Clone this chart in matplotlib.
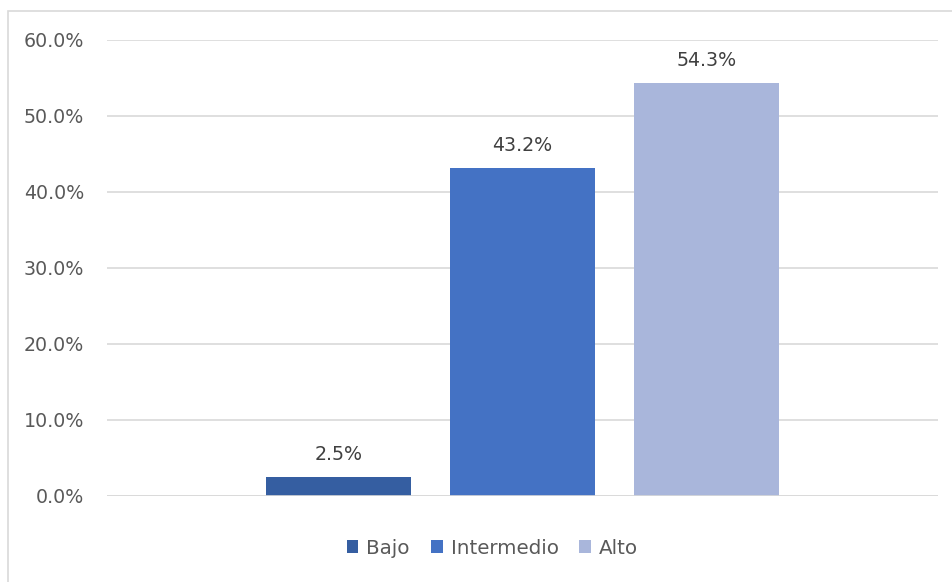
import matplotlib.pyplot as plt
from matplotlib.patches import Rectangle

# Datos del gráfico
niveles = ['Bajo', 'Intermedio', 'Alto']
porcentajes = [2.5, 43.2, 54.3]
colores = ['#355EA1', '#4472C4', '#A9B6DB']
ticks_y = [0, 10, 20, 30, 40, 50, 60]

gris_texto = '#595959'
gris_linea = '#D9D9D9'

fig = plt.figure(figsize=(9.53, 5.82), dpi=100)
ax = fig.add_axes([0.1123, 0.1478, 0.8720, 0.7835])

# Borde exterior del gráfico
fig.patches.append(Rectangle((8 / 953, -0.05), 1.2, 1 - 11 / 582 + 0.05,
                             transform=fig.transFigure, fill=False,
                             edgecolor=gris_linea, linewidth=1.2))

# Tres barras agrupadas en una sola categoría
ancho = 0.1745
desplaz = [-0.2215, 0.0, 0.2215]
for nombre, valor, color, d in zip(niveles, porcentajes, colores, desplaz):
    ax.bar(0.5 + d, valor, width=ancho, color=color, label=nombre, zorder=3)
    ax.text(0.5 + d, valor + 1.7, f'{valor:.1f}%', ha='center', va='bottom',
            fontsize=13.7, color='#404040')

ax.set_xlim(0, 1)
ax.set_ylim(0, 60)
ax.set_yticks(ticks_y)
ax.set_yticklabels([f'{t:.1f}%' for t in ticks_y], fontsize=13.7, color=gris_texto)
ax.set_xticks([])
ax.tick_params(axis='y', length=0, pad=16.5)
ax.grid(axis='y', color=gris_linea, linewidth=1.2, zorder=0)
for lado in ['top', 'right', 'left', 'bottom']:
    ax.spines[lado].set_visible(False)
ax.axhline(0, color=gris_linea, linewidth=1.2, zorder=4)

ax.legend(loc='center', bbox_to_anchor=(492.5 / 953, 1 - 548 / 582),
          bbox_transform=fig.transFigure, ncol=3, frameon=False,
          fontsize=14.3, handlelength=0.6, handleheight=0.6,
          handletextpad=0.4, columnspacing=1.05, labelcolor=gris_texto)

fig.savefig('out.png', dpi=100)
